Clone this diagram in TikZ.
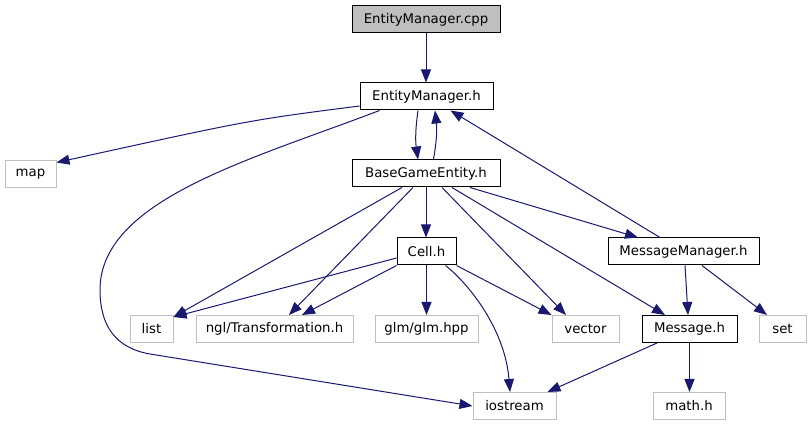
\documentclass[tikz,border=0pt]{standalone}
\usepackage{fontspec}
\setmainfont{DejaVu Sans}
\usetikzlibrary{arrows.meta}
\definecolor{edgecol}{HTML}{191970}
\definecolor{graybd}{HTML}{BFBFBF}
\begin{document}
\begin{tikzpicture}[x=1pt,y=-1pt,
  box/.style={draw=black,line width=1pt,inner sep=0pt,minimum height=27pt,font=\fontsize{13.3}{15}\selectfont,anchor=center},
  ext/.style={box,draw=graybd},
  cur/.style={box,fill=graybd},
  edge/.style={draw=edgecol,line width=1pt,-{Triangle[length=13pt,width=10pt]}}]
\useasboundingbox (0,0) rectangle (811,427);
\node[cur,minimum width=148pt] (cpp) at (426,19.5) {EntityManager.cpp};
\node[box,minimum width=133pt] (emh) at (426.5,96.5) {EntityManager.h};
\node[box,minimum width=148pt] (bge) at (426,173.5) {BaseGameEntity.h};
\node[ext,minimum width=51pt] (map) at (30.5,174.5) {map};
\node[box,minimum width=59pt] (cell) at (426.5,251.5) {Cell.h};
\node[box,minimum width=151pt] (mm) at (683.5,251.5) {MessageManager.h};
\node[ext,minimum width=43pt] (list) at (151.5,329) {list};
\node[ext,minimum width=157pt] (ngl) at (274.5,329) {ngl/Transformation.h};
\node[ext,minimum width=103pt] (glm) at (426.5,329) {glm/glm.hpp};
\node[ext,minimum width=67pt] (vector) at (585.5,329) {vector};
\node[box,minimum width=95pt] (msg) at (689.5,329) {Message.h};
\node[ext,minimum width=47pt] (set) at (782.5,329) {set};
\node[ext,minimum width=83pt] (iostream) at (514.5,406) {iostream};
\node[ext,minimum width=72pt] (math) at (689,406) {math.h};

\draw[edge] (cpp.south) -- (cpp.south |- emh.north);
\draw[edge] ([yshift=-9.5pt]emh.west) .. controls (250,120) .. ([yshift=-2pt]map.north east);
\draw[edge] ([xshift=20pt]emh.south west) .. controls (250,160) and (100,200) .. (100,290) .. controls (100,325) and (115,348) .. (150,354) -- (iostream.west);
\draw[edge] ([xshift=-8.5pt]emh.south) to[bend right=8] ([xshift=-8pt]bge.north);
\draw[edge] ([xshift=7.5pt]bge.north) to[bend right=8] ([xshift=8.5pt]emh.south);
\draw[edge] ([xshift=-23.5pt]mm.north) -- ([xshift=24pt]emh.south);
\draw[edge] ([xshift=-24pt]bge.south) -- ([yshift=-2pt]list.north east);
\draw[edge] ([xshift=-13pt]bge.south) -- ([xshift=14.5pt]ngl.north);
\draw[edge] (bge.south) -- (bge.south |- cell.north);
\draw[edge] ([xshift=16pt]bge.south) -- ([xshift=-19.5pt]vector.north);
\draw[edge] ([xshift=26pt]bge.south) -- ([xshift=-24.5pt]msg.north);
\draw[edge] ([xshift=44pt]bge.south) -- ([xshift=-45.5pt]mm.north);
\draw[edge] ([yshift=-6.5pt]cell.west) -- ([yshift=-2pt]list.north east);
\draw[edge] (cell.south west) -- ([xshift=27.5pt]ngl.north);
\draw[edge] (cell.south) -- (cell.south |- glm.north);
\draw[edge] (cell.south east) -- (vector.north west);
\draw[edge] ([xshift=-11pt]cell.south east) .. controls (470,285) and (505,330) .. ([xshift=-4.5pt]iostream.north);
\draw[edge] ([xshift=1.5pt]mm.south) -- ([xshift=-1.5pt]msg.north);
\draw[edge] ([xshift=18.5pt]mm.south) -- ([xshift=-15.5pt]set.north);
\draw[edge] ([xshift=-32.5pt]msg.south) -- ([xshift=-9pt]iostream.north east);
\draw[edge] (msg.south) -- (msg.south |- math.north);
\end{tikzpicture}
\end{document}
